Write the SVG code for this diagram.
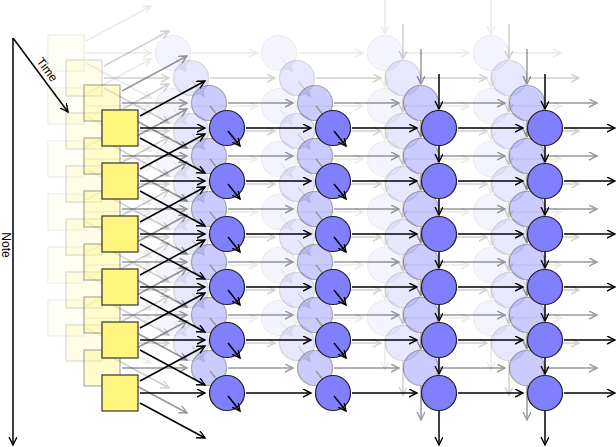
<svg xmlns="http://www.w3.org/2000/svg" xmlns:xlink="http://www.w3.org/1999/xlink" width="616" height="447" viewBox="0 0 616 447">
<style>
.sq{fill:#fff680;stroke:#333;stroke-width:1.2}
.nd{fill:#8080ff;stroke:#222;stroke-width:1.2}
.a{stroke:#000;stroke-width:1.5;fill:none;marker-end:url(#ah)}
.t{font-family:"Liberation Sans",Arial,sans-serif;font-size:12px;fill:#000}
</style>
<defs>
<marker id="ah" markerUnits="userSpaceOnUse" markerWidth="10" markerHeight="9" refX="8" refY="4" orient="auto"><path d="M0,0 L8,4 L0,8" fill="none" stroke="#000" stroke-width="1.4"/></marker>
<g id="layer">
<g id="connectors">
<path class="a" d="M140,116L205,81"/><path class="a" d="M140,128L205,128"/><path class="a" d="M140,138L205,173"/>
<path class="a" d="M140,169L205,134"/><path class="a" d="M140,181L205,181"/><path class="a" d="M140,191L205,226"/>
<path class="a" d="M140,222L205,187"/><path class="a" d="M140,234L205,234"/><path class="a" d="M140,244L205,279"/>
<path class="a" d="M140,275L205,240"/><path class="a" d="M140,287L205,287"/><path class="a" d="M140,297L205,332"/>
<path class="a" d="M140,328L205,293"/><path class="a" d="M140,340L205,340"/><path class="a" d="M140,350L205,385"/>
<path class="a" d="M140,381L205,346"/><path class="a" d="M140,393L205,393"/><path class="a" d="M140,403L205,438"/>
<path class="a" d="M246,128H311"/><path class="a" d="M352,128H417"/><path class="a" d="M458,128H523"/><path class="a" d="M564,128H615"/>
<path class="a" d="M246,181H311"/><path class="a" d="M352,181H417"/><path class="a" d="M458,181H523"/><path class="a" d="M564,181H615"/>
<path class="a" d="M246,234H311"/><path class="a" d="M352,234H417"/><path class="a" d="M458,234H523"/><path class="a" d="M564,234H615"/>
<path class="a" d="M246,287H311"/><path class="a" d="M352,287H417"/><path class="a" d="M458,287H523"/><path class="a" d="M564,287H615"/>
<path class="a" d="M246,340H311"/><path class="a" d="M352,340H417"/><path class="a" d="M458,340H523"/><path class="a" d="M564,340H615"/>
<path class="a" d="M246,393H311"/><path class="a" d="M352,393H417"/><path class="a" d="M458,393H523"/><path class="a" d="M564,393H615"/>
<path class="a" d="M439,74V109"/><path class="a" d="M545,74V109"/>
<path class="a" d="M439,146V162"/><path class="a" d="M545,146V162"/>
<path class="a" d="M439,199V215"/><path class="a" d="M545,199V215"/>
<path class="a" d="M439,252V268"/><path class="a" d="M545,252V268"/>
<path class="a" d="M439,305V321"/><path class="a" d="M545,305V321"/>
<path class="a" d="M439,358V374"/><path class="a" d="M545,358V374"/>
<path class="a" d="M439,411V445"/><path class="a" d="M545,411V445"/>
</g>
<g id="squares">
<rect class="sq" x="102" y="110" width="36" height="36"/><rect class="sq" x="102" y="163" width="36" height="36"/><rect class="sq" x="102" y="216" width="36" height="36"/><rect class="sq" x="102" y="269" width="36" height="36"/><rect class="sq" x="102" y="322" width="36" height="36"/><rect class="sq" x="102" y="375" width="36" height="36"/>
</g>
<g id="nodes">
<circle class="nd" cx="227" cy="128" r="17.5"/><circle class="nd" cx="333" cy="128" r="17.5"/><circle class="nd" cx="439" cy="128" r="17.5"/><circle class="nd" cx="545" cy="128" r="17.5"/>
<circle class="nd" cx="227" cy="181" r="17.5"/><circle class="nd" cx="333" cy="181" r="17.5"/><circle class="nd" cx="439" cy="181" r="17.5"/><circle class="nd" cx="545" cy="181" r="17.5"/>
<circle class="nd" cx="227" cy="234" r="17.5"/><circle class="nd" cx="333" cy="234" r="17.5"/><circle class="nd" cx="439" cy="234" r="17.5"/><circle class="nd" cx="545" cy="234" r="17.5"/>
<circle class="nd" cx="227" cy="287" r="17.5"/><circle class="nd" cx="333" cy="287" r="17.5"/><circle class="nd" cx="439" cy="287" r="17.5"/><circle class="nd" cx="545" cy="287" r="17.5"/>
<circle class="nd" cx="227" cy="340" r="17.5"/><circle class="nd" cx="333" cy="340" r="17.5"/><circle class="nd" cx="439" cy="340" r="17.5"/><circle class="nd" cx="545" cy="340" r="17.5"/>
<circle class="nd" cx="227" cy="393" r="17.5"/><circle class="nd" cx="333" cy="393" r="17.5"/><circle class="nd" cx="439" cy="393" r="17.5"/><circle class="nd" cx="545" cy="393" r="17.5"/>
</g>
<g id="inner">
<path class="a" d="M228,131L240,146"/><path class="a" d="M334,131L346,146"/>
<path class="a" d="M228,184L240,199"/><path class="a" d="M334,184L346,199"/>
<path class="a" d="M228,237L240,252"/><path class="a" d="M334,237L346,252"/>
<path class="a" d="M228,290L240,305"/><path class="a" d="M334,290L346,305"/>
<path class="a" d="M228,343L240,358"/><path class="a" d="M334,343L346,358"/>
<path class="a" d="M228,396L240,411"/><path class="a" d="M334,396L346,411"/>
</g>
</g>
</defs>
<use xlink:href="#layer" href="#layer" transform="translate(-54,-75)" opacity="0.08"/>
<use xlink:href="#layer" href="#layer" transform="translate(-36,-50)" opacity="0.18"/>
<use xlink:href="#layer" href="#layer" transform="translate(-18,-25)" opacity="0.4"/>
<use xlink:href="#layer" href="#layer"/>
<g id="axes">
<path class="a" d="M13,38V445"/>
<path class="a" d="M13,38L68,112"/>
<text class="t" transform="translate(2,245) rotate(90)" text-anchor="middle">Note</text>
<text class="t" transform="translate(44,72) rotate(53)" text-anchor="middle">Time</text>
</g>
</svg>
